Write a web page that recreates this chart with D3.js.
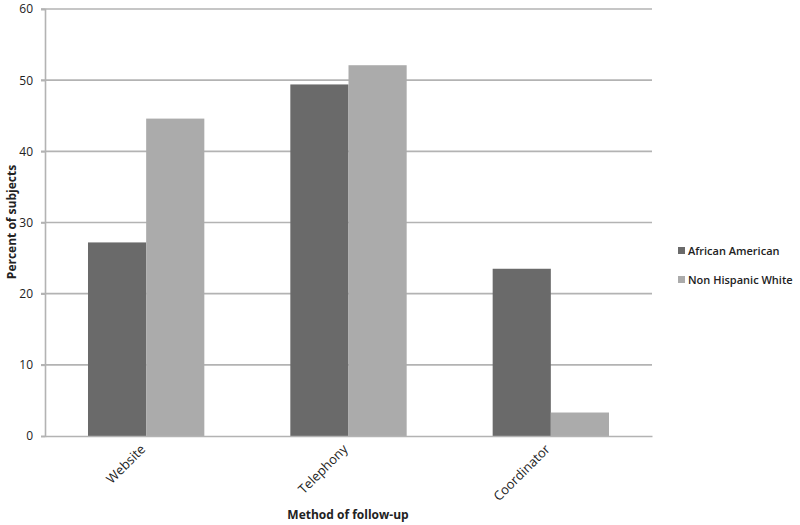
<!DOCTYPE html>
<html><head><meta charset="utf-8">
<script src="https://cdn.jsdelivr.net/npm/d3@7"></script>
<style>body{margin:0;background:#fff;} svg{display:block;font-family:"Open Sans",sans-serif;}</style>
</head><body>
<svg id="c" width="800" height="525"></svg>
<script>
const categories = ["Website", "Telephony", "Coordinator"];
const seriesNames = ["African American", "Non Hispanic White"];
const africanAmerican = [27.2, 49.4, 23.5];
const nonHispanicWhite = [44.6, 52.1, 3.3];
const yTicks = [0, 10, 20, 30, 40, 50, 60];
const colors = ["#6a6a6a", "#ababab"];

const svg = d3.select("#c");
const m = {left: 45, right: 652, top: 9, bottom: 436};
const x = d3.scaleBand().domain(categories).range([m.left, m.right]).paddingInner(0.425).paddingOuter(0.2125);
const xs = d3.scaleBand().domain(seriesNames).range([0, x.bandwidth()]);
const y = d3.scaleLinear().domain([0, 60]).range([m.bottom, m.top]);

svg.append("g").selectAll("line").data(yTicks.filter(d => d > 0)).join("line")
  .attr("x1", m.left - 4).attr("x2", m.right)
  .attr("y1", d => y(d)).attr("y2", d => y(d))
  .attr("stroke", "#b3b3b3").attr("stroke-width", 1.6);

const data = categories.map((c, i) => ({c, vals: [africanAmerican[i], nonHispanicWhite[i]]}));
const g = svg.append("g").selectAll("g").data(data).join("g")
  .attr("transform", d => `translate(${x(d.c)},0)`);
g.selectAll("rect").data(d => d.vals.map((v, j) => ({v, s: seriesNames[j], j}))).join("rect")
  .attr("x", d => xs(d.s)).attr("width", xs.bandwidth())
  .attr("y", d => y(d.v)).attr("height", d => y(0) - y(d.v))
  .attr("fill", d => colors[d.j]);

const ya = d3.axisLeft(y).tickValues(yTicks).tickSize(4).tickPadding(8);
const yg = svg.append("g").attr("transform", `translate(${m.left},0)`).call(ya);
yg.select(".domain").attr("stroke", "#b3b3b3").attr("stroke-width", 1.6);
yg.selectAll(".tick line").attr("stroke", "#b3b3b3").attr("stroke-width", 1.6);
yg.selectAll("text").attr("font-size", 12).attr("fill", "#222").attr("font-family", "Open Sans");

const xa = d3.axisBottom(x).tickSize(0).tickPadding(0);
const xg = svg.append("g").attr("transform", `translate(0,${m.bottom})`).call(xa);
xg.select(".domain").attr("stroke", "#b3b3b3").attr("stroke-width", 1.6);
xg.selectAll("text").attr("font-size", 13).attr("fill", "#222").attr("font-family", "Open Sans")
  .attr("text-anchor", "end").attr("dy", 0)
  .attr("transform", "translate(0,14) rotate(-45)");

svg.append("text").attr("x", 348).attr("y", 519).attr("text-anchor", "middle")
  .attr("font-size", 12).attr("font-weight", 700).attr("fill", "#222").text("Method of follow-up");
svg.append("text").attr("transform", "translate(16,222) rotate(-90)").attr("text-anchor", "middle")
  .attr("font-size", 12).attr("font-weight", 700).attr("fill", "#222").text("Percent of subjects");

const lg = svg.append("g").selectAll("g").data(seriesNames).join("g")
  .attr("transform", (d, i) => `translate(678,${251 + i * 29})`);
lg.append("rect").attr("x", 0).attr("y", -4).attr("width", 7).attr("height", 7).attr("fill", (d, i) => colors[i]);
lg.append("text").attr("x", 10).attr("y", 4).attr("font-size", 11).attr("font-weight", 600)
  .attr("fill", "#222").text(d => d);
</script>
</body></html>
